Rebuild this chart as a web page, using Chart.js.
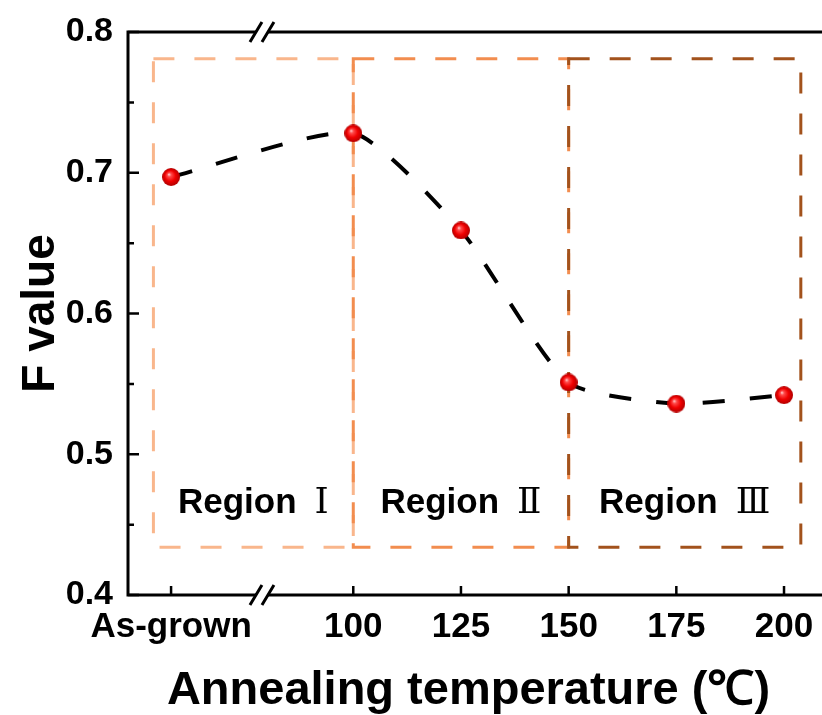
<!DOCTYPE html>
<html>
<head>
<meta charset="utf-8">
<script src="https://cdn.jsdelivr.net/npm/chart.js@4.4.1/dist/chart.umd.min.js"></script>
<style>
  html, body { margin: 0; padding: 0; background: #fff; }
  #chart { display: block; }
</style>
</head>
<body>
<canvas id="chart" width="822" height="715"></canvas>
<script>
// data
const categories = ['As-grown', '100', '125', '150', '175', '200'];
const temperatures = [null, 100, 125, 150, 175, 200];
const fValues = [0.697, 0.728, 0.659, 0.551, 0.536, 0.542];
const yTicks = [0.4, 0.5, 0.6, 0.7, 0.8];
const yMinorTicks = [0.45, 0.55, 0.65, 0.75];
const regionNames = ['Region', 'Region', 'Region'];
const regionNumerals = ['Ⅰ', 'Ⅱ', 'Ⅲ'];
const regionFrom = [53.6, 100, 150];
const regionTo = [100, 150, 203.9];
const regionBottom = 0.434;
const regionTop = 0.781;

// layout of the broken x axis
const AS_GROWN_X = 57.7;
const BREAK_X = 78.8;
const X_MIN = 47.7;
const X_MAX = 205.8;
const REGION_LABEL_Y = 0.458;
const regionColors = ['#f9b68c', '#f28d4f', '#a2521c'];

const FONT = '"Liberation Sans", Arial, sans-serif';

const points = fValues.map((v, i) => ({
  x: temperatures[i] === null ? AS_GROWN_X : temperatures[i],
  y: v,
}));

// shiny red ball marker
function makeBall(r) {
  const c = document.createElement('canvas');
  c.width = c.height = r * 2;
  const g = c.getContext('2d');
  const grad = g.createRadialGradient(r * 0.75, r * 0.7, 0, r, r, r);
  grad.addColorStop(0, '#ffe0e0');
  grad.addColorStop(0.22, '#ff4a4a');
  grad.addColorStop(0.6, '#f00000');
  grad.addColorStop(1, '#b00000');
  g.fillStyle = grad;
  g.beginPath();
  g.arc(r, r, r, 0, Math.PI * 2);
  g.fill();
  return c;
}
const ball = makeBall(9);

const regionBoxes = {
  id: 'regionBoxes',
  beforeDatasetsDraw(chart) {
    const ctx = chart.ctx;
    const x = chart.scales.x;
    const y = chart.scales.y;
    ctx.save();
    ctx.lineWidth = 3;
    ctx.setLineDash([21, 20]);
    for (let i = 0; i < regionFrom.length; i++) {
      const x0 = x.getPixelForValue(regionFrom[i]);
      const x1 = x.getPixelForValue(regionTo[i]);
      const y0 = y.getPixelForValue(regionTop);
      const y1 = y.getPixelForValue(regionBottom);
      ctx.strokeStyle = regionColors[i];
      ctx.strokeRect(x0, y0, x1 - x0, y1 - y0);
    }
    ctx.setLineDash([]);
    ctx.fillStyle = '#000';
    ctx.textBaseline = 'alphabetic';
    const by = y.getPixelForValue(REGION_LABEL_Y);
    for (let i = 0; i < regionFrom.length; i++) {
      const cx = (x.getPixelForValue(regionFrom[i]) + x.getPixelForValue(regionTo[i])) / 2;
      ctx.font = 'bold 35px ' + FONT;
      const w1 = ctx.measureText(regionNames[i]).width;
      const numFont = '36px "Liberation Serif", "DejaVu Serif", "Noto Sans CJK SC", serif';
      ctx.font = numFont;
      const w2 = ctx.measureText(regionNumerals[i]).width;
      const gap = 18;
      const sx = cx - (w1 + gap + w2) / 2;
      ctx.textAlign = 'left';
      ctx.font = 'bold 35px ' + FONT;
      ctx.fillText(regionNames[i], sx, by);
      ctx.font = numFont;
      ctx.fillText(regionNumerals[i], sx + w1 + gap, by);
    }
    ctx.restore();
  },
};

const axisFrame = {
  id: 'axisFrame',
  afterDraw(chart) {
    const ctx = chart.ctx;
    const { left, top, bottom } = chart.chartArea;
    const right = chart.width;
    const x = chart.scales.x;
    const y = chart.scales.y;
    const bx = x.getPixelForValue(BREAK_X);
    ctx.save();
    ctx.strokeStyle = '#000';
    ctx.lineWidth = 3;
    ctx.lineCap = 'butt';
    ctx.beginPath();
    ctx.moveTo(left, top - 1.5);
    ctx.lineTo(left, bottom + 1.5);
    [top, bottom].forEach((yy) => {
      ctx.moveTo(left - 1.5, yy);
      ctx.lineTo(bx - 6, yy);
      ctx.moveTo(bx + 6, yy);
      ctx.lineTo(right, yy);
    });
    ctx.stroke();

    // axis break marks
    ctx.beginPath();
    [top, bottom].forEach((yy) => {
      [bx - 6, bx + 6].forEach((c) => {
        ctx.moveTo(c - 6, yy + 10);
        ctx.lineTo(c + 6, yy - 10);
      });
    });
    ctx.stroke();

    // inward ticks
    ctx.lineWidth = 2.5;
    ctx.beginPath();
    yTicks.forEach((v) => {
      const py = y.getPixelForValue(v);
      ctx.moveTo(left, py);
      ctx.lineTo(left + 11, py);
    });
    yMinorTicks.forEach((v) => {
      const py = y.getPixelForValue(v);
      ctx.moveTo(left, py);
      ctx.lineTo(left + 6, py);
    });
    x.ticks.forEach((t) => {
      const px = x.getPixelForValue(t.value);
      ctx.moveTo(px, bottom);
      ctx.lineTo(px, bottom - 9);
    });
    ctx.stroke();
    ctx.restore();
  },
};

new Chart(document.getElementById('chart'), {
  type: 'line',
  data: {
    datasets: [
      {
        label: 'F value',
        data: points,
        borderColor: '#000',
        borderWidth: 4,
        borderDash: [22, 25],
        tension: 0.2,
        pointStyle: ball,
        pointRadius: 9,
        pointHoverRadius: 9,
      },
    ],
  },
  options: {
    responsive: false,
    devicePixelRatio: 1,
    animation: false,
    layout: { padding: { top: 32, right: 0, left: 0, bottom: 0 } },
    plugins: {
      legend: { display: false },
      tooltip: { enabled: false },
    },
    scales: {
      x: {
        type: 'linear',
        min: X_MIN,
        max: X_MAX,
        grid: { display: false, drawTicks: false },
        border: { display: false },
        afterBuildTicks: (s) => {
          s.ticks = points.map((p) => ({ value: p.x }));
        },
        afterFit: (s) => {
          s.height = 120;
          s.paddingLeft = 0;
          s.paddingRight = 0;
        },
        ticks: {
          autoSkip: false,
          maxRotation: 0,
          padding: 11,
          color: '#000',
          font: { family: FONT, size: 35, weight: 'bold' },
          callback: (v, i) => categories[i],
        },
        title: {
          display: true,
          text: 'Annealing temperature (℃)',
          color: '#000',
          font: { family: FONT, size: 47, weight: 'bold' },
          padding: { top: 0, bottom: -4 },
        },
      },
      y: {
        min: 0.4,
        max: 0.8,
        grid: { display: false, drawTicks: false },
        border: { display: false },
        afterBuildTicks: (s) => {
          s.ticks = yTicks.map((v) => ({ value: v }));
        },
        afterFit: (s) => {
          s.width = 128;
          s.paddingTop = 0;
          s.paddingBottom = 0;
        },
        ticks: {
          padding: 15,
          color: '#000',
          font: { family: FONT, size: 34, weight: 'bold' },
          callback: (v) => v.toFixed(1),
        },
        title: {
          display: true,
          text: 'F value',
          color: '#000',
          font: { family: FONT, size: 46, weight: 'bold' },
          padding: { top: 14, bottom: 0 },
        },
      },
    },
  },
  plugins: [regionBoxes, axisFrame],
});
</script>
</body>
</html>
